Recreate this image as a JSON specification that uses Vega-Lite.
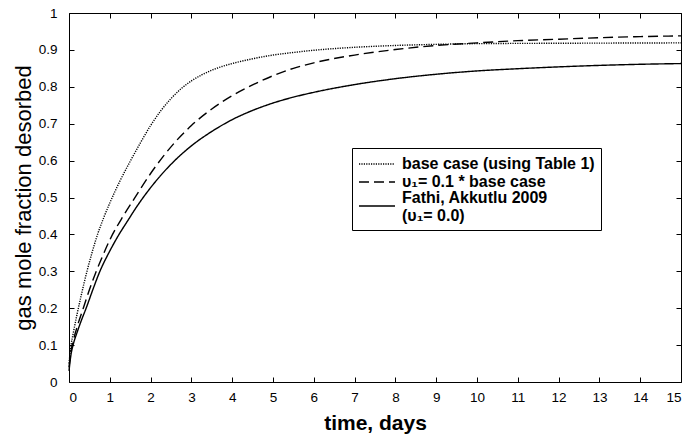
{
  "$schema": "https://vega.github.io/schema/vega-lite/v6.json",
  "width": 612,
  "height": 369,
  "autosize": "none",
  "padding": {"left": 69, "top": 13, "right": 5, "bottom": 52},
  "background": "white",
  "config": {
    "view": {"stroke": "black", "strokeWidth": 1},
    "axis": {
      "domain": false,
      "grid": false,
      "tickColor": "black",
      "tickSize": 5,
      "offset": -5,
      "labelColor": "black",
      "labelFont": "Liberation Sans",
      "labelFontSize": 13.5,
      "titleColor": "black",
      "titleFont": "Liberation Sans"
    },
    "legend": {
      "labelFont": "Liberation Sans",
      "labelFontSize": 16,
      "labelFontWeight": "bold",
      "labelColor": "black",
      "labelLimit": 400
    }
  },
  "data": {
    "values": [
      {"t": 0, "v": 0.05, "s": "base"},
      {"t": 0.05, "v": 0.10, "s": "base"},
      {"t": 0.1, "v": 0.13, "s": "base"},
      {"t": 0.2, "v": 0.185, "s": "base"},
      {"t": 0.3, "v": 0.235, "s": "base"},
      {"t": 0.44, "v": 0.30, "s": "base"},
      {"t": 0.55, "v": 0.345, "s": "base"},
      {"t": 0.7, "v": 0.40, "s": "base"},
      {"t": 0.85, "v": 0.445, "s": "base"},
      {"t": 1.0, "v": 0.485, "s": "base"},
      {"t": 1.25, "v": 0.545, "s": "base"},
      {"t": 1.5, "v": 0.598, "s": "base"},
      {"t": 1.75, "v": 0.648, "s": "base"},
      {"t": 2.0, "v": 0.695, "s": "base"},
      {"t": 2.25, "v": 0.735, "s": "base"},
      {"t": 2.5, "v": 0.768, "s": "base"},
      {"t": 2.75, "v": 0.795, "s": "base"},
      {"t": 3.0, "v": 0.816, "s": "base"},
      {"t": 3.25, "v": 0.832, "s": "base"},
      {"t": 3.5, "v": 0.845, "s": "base"},
      {"t": 3.75, "v": 0.855, "s": "base"},
      {"t": 4.0, "v": 0.863, "s": "base"},
      {"t": 4.5, "v": 0.876, "s": "base"},
      {"t": 5.0, "v": 0.886, "s": "base"},
      {"t": 5.5, "v": 0.893, "s": "base"},
      {"t": 6.0, "v": 0.899, "s": "base"},
      {"t": 7.0, "v": 0.907, "s": "base"},
      {"t": 8.0, "v": 0.912, "s": "base"},
      {"t": 9.0, "v": 0.915, "s": "base"},
      {"t": 10.0, "v": 0.917, "s": "base"},
      {"t": 12.0, "v": 0.918, "s": "base"},
      {"t": 15.0, "v": 0.919, "s": "base"},
      {"t": 0, "v": 0.04, "s": "tenth"},
      {"t": 0.05, "v": 0.085, "s": "tenth"},
      {"t": 0.1, "v": 0.11, "s": "tenth"},
      {"t": 0.2, "v": 0.15, "s": "tenth"},
      {"t": 0.35, "v": 0.20, "s": "tenth"},
      {"t": 0.5, "v": 0.25, "s": "tenth"},
      {"t": 0.65, "v": 0.295, "s": "tenth"},
      {"t": 0.8, "v": 0.335, "s": "tenth"},
      {"t": 1.0, "v": 0.385, "s": "tenth"},
      {"t": 1.33, "v": 0.45, "s": "tenth"},
      {"t": 1.6, "v": 0.497, "s": "tenth"},
      {"t": 2.0, "v": 0.565, "s": "tenth"},
      {"t": 2.3, "v": 0.61, "s": "tenth"},
      {"t": 2.6, "v": 0.65, "s": "tenth"},
      {"t": 3.0, "v": 0.695, "s": "tenth"},
      {"t": 3.5, "v": 0.74, "s": "tenth"},
      {"t": 4.0, "v": 0.776, "s": "tenth"},
      {"t": 4.5, "v": 0.805, "s": "tenth"},
      {"t": 5.0, "v": 0.83, "s": "tenth"},
      {"t": 5.5, "v": 0.85, "s": "tenth"},
      {"t": 6.0, "v": 0.865, "s": "tenth"},
      {"t": 7.0, "v": 0.886, "s": "tenth"},
      {"t": 8.0, "v": 0.901, "s": "tenth"},
      {"t": 9.0, "v": 0.912, "s": "tenth"},
      {"t": 10.0, "v": 0.919, "s": "tenth"},
      {"t": 11.0, "v": 0.925, "s": "tenth"},
      {"t": 12.0, "v": 0.929, "s": "tenth"},
      {"t": 13.0, "v": 0.933, "s": "tenth"},
      {"t": 14.0, "v": 0.936, "s": "tenth"},
      {"t": 15.0, "v": 0.938, "s": "tenth"},
      {"t": 0, "v": 0.03, "s": "fathi"},
      {"t": 0.05, "v": 0.075, "s": "fathi"},
      {"t": 0.1, "v": 0.10, "s": "fathi"},
      {"t": 0.2, "v": 0.135, "s": "fathi"},
      {"t": 0.3, "v": 0.166, "s": "fathi"},
      {"t": 0.42, "v": 0.20, "s": "fathi"},
      {"t": 0.6, "v": 0.255, "s": "fathi"},
      {"t": 0.75, "v": 0.298, "s": "fathi"},
      {"t": 1.0, "v": 0.355, "s": "fathi"},
      {"t": 1.2, "v": 0.395, "s": "fathi"},
      {"t": 1.45, "v": 0.439, "s": "fathi"},
      {"t": 1.66, "v": 0.475, "s": "fathi"},
      {"t": 2.06, "v": 0.535, "s": "fathi"},
      {"t": 2.5, "v": 0.59, "s": "fathi"},
      {"t": 3.0, "v": 0.64, "s": "fathi"},
      {"t": 3.5, "v": 0.679, "s": "fathi"},
      {"t": 4.0, "v": 0.711, "s": "fathi"},
      {"t": 4.5, "v": 0.736, "s": "fathi"},
      {"t": 5.0, "v": 0.756, "s": "fathi"},
      {"t": 5.5, "v": 0.772, "s": "fathi"},
      {"t": 6.0, "v": 0.785, "s": "fathi"},
      {"t": 7.0, "v": 0.806, "s": "fathi"},
      {"t": 8.0, "v": 0.822, "s": "fathi"},
      {"t": 9.0, "v": 0.834, "s": "fathi"},
      {"t": 10.0, "v": 0.843, "s": "fathi"},
      {"t": 11.0, "v": 0.849, "s": "fathi"},
      {"t": 12.0, "v": 0.854, "s": "fathi"},
      {"t": 13.0, "v": 0.858, "s": "fathi"},
      {"t": 14.0, "v": 0.861, "s": "fathi"},
      {"t": 15.0, "v": 0.863, "s": "fathi"}
    ]
  },
  "layer": [
    {
      "mark": {"type": "line", "color": "black", "strokeWidth": 1.4, "interpolate": "monotone"},
      "encoding": {
        "x": {
          "field": "t", "type": "quantitative",
          "scale": {"domain": [0, 15], "nice": false},
          "axis": {"values": [0,1,2,3,4,5,6,7,8,9,10,11,12,13,14,15], "labelPadding": 8, "title": "time, days", "titleFontSize": 21, "titleFontWeight": "bold", "titlePadding": 9}
        },
        "y": {
          "field": "v", "type": "quantitative",
          "scale": {"domain": [0, 1], "nice": false},
          "axis": {"values": [0,0.1,0.2,0.3,0.4,0.5,0.6,0.7,0.8,0.9,1], "format": "~g", "labelPadding": 12, "title": "gas mole fraction desorbed", "titleFontSize": 22, "titleFontWeight": "normal", "titlePadding": 3}
        },
        "strokeDash": {
          "field": "s", "type": "nominal",
          "scale": {"domain": ["base", "tenth", "fathi"], "range": [[1.2, 1.2], [10, 5], [1, 0]]},
          "legend": {
            "title": null,
            "orient": "none",
            "legendX": 283,
            "legendY": 135,
            "symbolType": "M-2,0H2",
            "symbolSize": 324,
            "symbolOffset": 9,
            "symbolStrokeWidth": 1.4,
            "symbolStrokeColor": "black",
            "strokeColor": "black",
            "fillColor": "white",
            "padding": 6,
            "rowPadding": 0,
            "labelOffset": 15,
            "labelBaseline": "middle",
            "labelExpr": "datum.label == 'base' ? 'base case (using Table 1)' : datum.label == 'tenth' ? 'υ₁= 0.1 * base case' : ['Fathi, Akkutlu 2009', '(υ₁= 0.0)']",
            "encode": {
              "labels": {
                "update": {
                  "dy": {"signal": "datum.value == 'fathi' ? -8 : 0"}
                }
              }
            }
          }
        }
      }
    },
    {
      "mark": {"type": "point", "opacity": 0},
      "encoding": {
        "x": {
          "field": "t", "type": "quantitative",
          "axis": {"orient": "top", "values": [0,1,2,3,4,5,6,7,8,9,10,11,12,13,14,15], "labels": false, "title": null}
        },
        "y": {
          "field": "v", "type": "quantitative",
          "axis": {"orient": "right", "values": [0,0.1,0.2,0.3,0.4,0.5,0.6,0.7,0.8,0.9,1], "labels": false, "title": null}
        }
      }
    }
  ],
  "resolve": {"axis": {"x": "independent", "y": "independent"}}
}
